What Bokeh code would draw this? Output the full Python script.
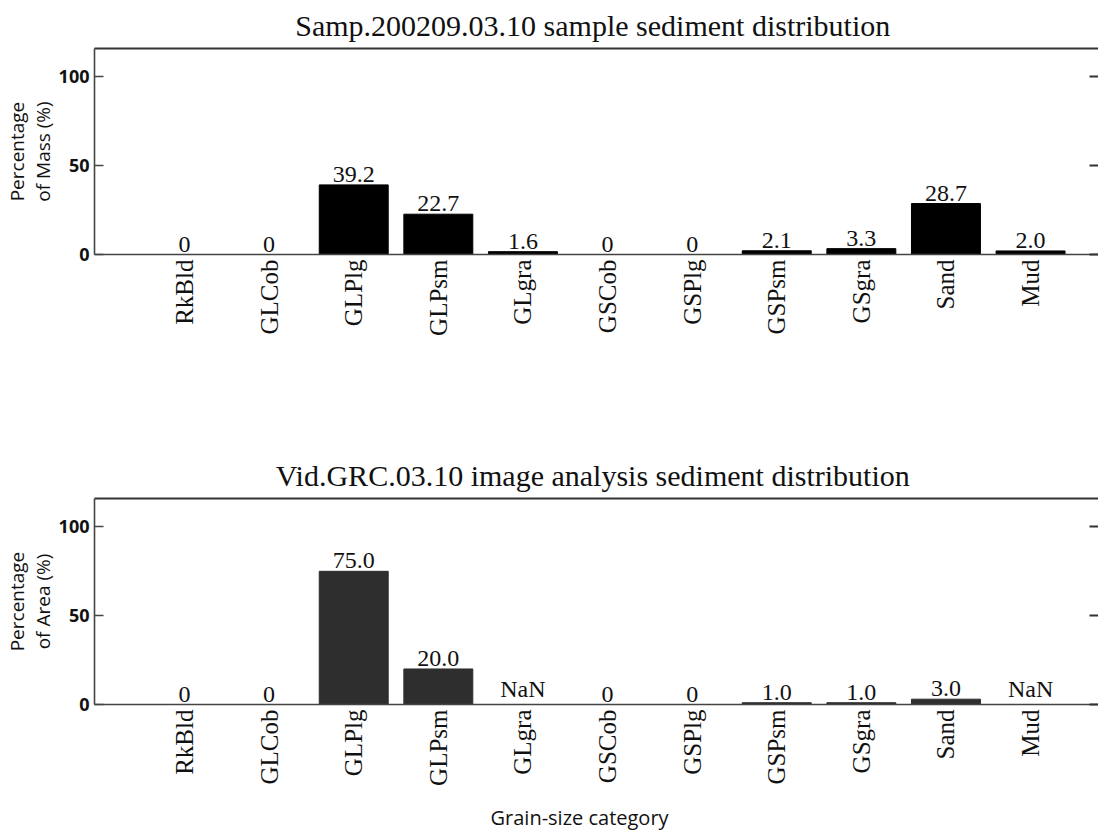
import numpy as np
from bokeh.plotting import figure
from bokeh.models import (ColumnDataSource, Range1d, FixedTicker, LinearAxis, Title)
from bokeh.layouts import column
from bokeh.core.properties import value
from bokeh.embed import file_html
from bokeh.resources import INLINE

categories = ["RkBld", "GLCob", "GLPlg", "GLPsm", "GLgra", "GSCob",
              "GSPlg", "GSPsm", "GSgra", "Sand", "Mud"]
mass_pct = [0, 0, 39.2, 22.7, 1.6, 0, 0, 2.1, 3.3, 28.7, 2.0]
area_pct = [0, 0, 75.0, 20.0, np.nan, 0, 0, 1.0, 1.0, 3.0, np.nan]
y_ticks = [0, 50, 100]

title1 = "Samp.200209.03.10  sample sediment distribution"
title2 = "Vid.GRC.03.10  image analysis sediment distribution"
ylabel1 = "Percentage\nof Mass (%)"
ylabel2 = "Percentage\nof Area (%)"
xlabel = "Grain-size category"

SERIF = "Liberation Serif"
SANS = "Open Sans"
INK = "#111111"
AXIS = "#444444"


def fmt(v):
    if v is None or (isinstance(v, float) and np.isnan(v)):
        return "NaN"
    if v == 0:
        return "0"
    return f"{v:.1f}"


def make(values, title, ylabel, bar_color, top_border, bottom_border,
         title_standoff, with_xlabel):
    xs = list(range(len(categories)))
    vals = [float(v) for v in values]
    src = ColumnDataSource(dict(
        x=xs, top=vals,
        ly=[0.0 if np.isnan(v) else v for v in vals],
        lab=[fmt(v) for v in vals]))
    p = figure(frame_width=1004, frame_height=206, output_backend="svg",
               toolbar_location=None, x_range=Range1d(-1.064, 10.803),
               y_range=Range1d(0, 116), min_border_left=94,
               min_border_right=0, min_border_top=top_border,
               min_border_bottom=bottom_border, title=None)
    p.background_fill_color = "white"
    p.border_fill_color = "white"
    p.outline_line_color = None
    p.xgrid.visible = False
    p.ygrid.visible = False

    xa = p.below[0]
    ya = p.left[0]

    p.vbar(x="x", top="top", width=0.815, bottom=0, source=src,
           fill_color=bar_color, line_color=bar_color)
    p.text(x="x", y="ly", text="lab", source=src, text_align="center",
           text_baseline="bottom", y_offset=-3,
           text_font=value(SERIF), text_font_size="24px", text_color=INK)

    xa.ticker = FixedTicker(ticks=xs)
    xa.major_label_overrides = {i: c for i, c in enumerate(categories)}
    xa.major_label_orientation = np.pi / 2
    xa.major_label_text_font = SERIF
    xa.major_label_text_font_size = "25px"
    xa.major_label_text_color = INK
    xa.major_label_standoff = 5
    xa.major_tick_line_color = None
    xa.major_tick_out = 0
    xa.major_tick_in = 0
    xa.minor_tick_line_color = None
    xa.axis_line_color = AXIS
    xa.axis_line_width = 1.6

    ya.ticker = FixedTicker(ticks=y_ticks)
    ya.axis_label = ylabel
    ya.axis_label_text_font = SANS
    ya.axis_label_text_font_size = "19px"
    ya.axis_label_text_line_height = 1.0
    ya.axis_label_text_font_style = "normal"
    ya.axis_label_text_color = INK
    ya.axis_label_standoff = 0
    ya.major_label_text_font = SANS
    ya.major_label_text_font_size = "18px"
    ya.major_label_text_font_style = "bold"
    ya.major_label_text_color = INK
    ya.major_label_standoff = 5
    ya.major_tick_in = 9
    ya.major_tick_out = 0
    ya.major_tick_line_color = AXIS
    ya.major_tick_line_width = 1.5
    ya.minor_tick_line_color = None
    ya.axis_line_color = AXIS
    ya.axis_line_width = 1.6

    top_ax = LinearAxis(ticker=FixedTicker(ticks=[]), axis_line_color="#333",
                        axis_line_width=1.8, major_tick_in=0, major_tick_out=0,
                        major_label_standoff=0,
                        major_tick_line_color=None, minor_tick_line_color=None)
    p.add_layout(top_ax, "above")
    p.add_layout(Title(text=title, align="center", standoff=title_standoff,
                       text_font=SERIF, text_font_size="30px",
                       text_font_style="normal", text_color=INK), "above")

    right_ax = LinearAxis(ticker=FixedTicker(ticks=y_ticks), axis_line_color=None,
                          major_label_overrides={0: "", 50: "", 100: ""},
                          major_label_standoff=0,
                          major_tick_in=9, major_tick_out=0,
                          major_tick_line_color="#333", major_tick_line_width=2,
                          minor_tick_line_color=None)
    p.add_layout(right_ax, "right")

    if with_xlabel:
        p.add_layout(Title(text=xlabel, align="left", offset=396, standoff=27,
                           text_font=SANS, text_font_size="20px",
                           text_font_style="normal", text_color=INK), "below")
    return p


p1 = make(mass_pct, title1, ylabel1, "black", 46, 174, 13, False)
p2 = make(area_pct, title2, ylabel2, "#2e2e2e", 70, 130, 14, True)

layout = column(p1, p2, spacing=0)
open("out.html", "w").write(file_html(layout, INLINE))
